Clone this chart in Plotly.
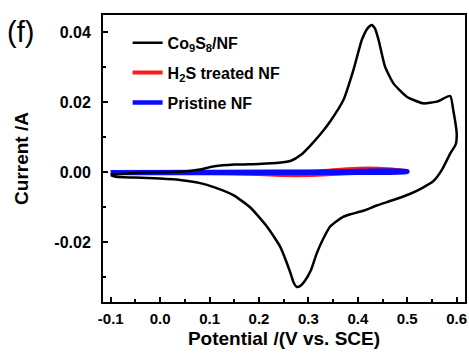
import plotly.graph_objects as go

# Co9S8/NF cyclic voltammogram (closed loop)
co_x = [-0.100, -0.050, 0.000, 0.050, 0.080, 0.110, 0.150, 0.200, 0.240, 0.265, 0.285, 0.303,
        0.325, 0.344, 0.371, 0.391, 0.408, 0.420, 0.428, 0.435, 0.442, 0.455, 0.472, 0.499,
        0.532, 0.560, 0.587, 0.593, 0.600, 0.598, 0.587, 0.570, 0.553, 0.530, 0.505, 0.470,
        0.438, 0.411, 0.385, 0.371, 0.357, 0.344, 0.330, 0.317, 0.305, 0.293, 0.283, 0.276,
        0.270, 0.263, 0.243, 0.216, 0.182, 0.148, 0.110, 0.081, 0.040, 0.000, -0.050, -0.090, -0.100]
co_y = [-0.0006, -0.0002, 0.0000, 0.0002, 0.0008, 0.0017, 0.0022, 0.0024, 0.0027, 0.0033, 0.0050, 0.0075,
        0.0110, 0.0145, 0.0207, 0.0292, 0.0378, 0.0412, 0.0421, 0.0410, 0.0378, 0.0302, 0.0254, 0.0216,
        0.0197, 0.0202, 0.0218, 0.0178, 0.0111, 0.0080, 0.0054, 0.0007, -0.0025, -0.0045, -0.0062, -0.0080,
        -0.0095, -0.0110, -0.0120, -0.0127, -0.0140, -0.0155, -0.0190, -0.0231, -0.0280, -0.0310, -0.0325, -0.0327,
        -0.0315, -0.0285, -0.0213, -0.0155, -0.0100, -0.0065, -0.0043, -0.0031, -0.0022, -0.0018, -0.0015, -0.0013, -0.0008]

# H2S treated NF
h2s_x = [-0.10, 0.10, 0.25, 0.33, 0.38, 0.42, 0.46, 0.50, 0.50, 0.45, 0.38, 0.30, 0.25, 0.20, 0.10, -0.10]
h2s_y = [0.0000, 0.0001, 0.0002, 0.0004, 0.0009, 0.0011, 0.0009, 0.0003, 0.0002, 0.0000, -0.0003, -0.0008,
         -0.0008, -0.0005, -0.0002, -0.0001]

# Pristine NF
pr_x = [-0.10, 0.10, 0.30, 0.40, 0.50, 0.50, 0.40, 0.20, -0.10]
pr_y = [0.0000, 0.0001, 0.0001, 0.0004, 0.0003, 0.0001, -0.0001, -0.0002, -0.0002]

x_ticks = [-0.1, 0.0, 0.1, 0.2, 0.3, 0.4, 0.5, 0.6]
x_tick_labels = ["-0.1", "0.0", "0.1", "0.2", "0.3", "0.4", "0.5", "0.6"]
y_ticks = [-0.02, 0.00, 0.02, 0.04]
y_tick_labels = ["-0.02", "0.00", "0.02", "0.04"]

FONT = "Arial, Liberation Sans, sans-serif"

fig = go.Figure()
fig.add_trace(go.Scatter(x=h2s_x, y=h2s_y, mode="lines", name="<b>H<sub>2</sub>S treated NF</b>",
                         line=dict(color="#ff1a1a", width=4, shape="spline", smoothing=0.8),
                         legendgroup="b", legendrank=2))
fig.add_trace(go.Scatter(x=pr_x, y=pr_y, mode="lines", name="<b>Pristine NF</b>",
                         line=dict(color="#0a0aff", width=4.5, shape="spline", smoothing=0.8),
                         legendgroup="c", legendrank=3))
fig.add_trace(go.Scatter(x=co_x, y=co_y, mode="lines", name="<b>Co<sub>9</sub>S<sub>8</sub>/NF</b>",
                         line=dict(color="black", width=2.5, shape="spline", smoothing=0.5),
                         legendgroup="a", legendrank=1))

axis_common = dict(showline=True, linecolor="black", linewidth=2, mirror=True,
                   ticks="inside", ticklen=5, tickwidth=2, tickcolor="black",
                   showgrid=False, zeroline=False, automargin=False,
                   ticklabeloverflow="allow")

fig.update_xaxes(range=[-0.1156, 0.6168], tickvals=x_ticks, ticktext=x_tick_labels,
                 ticklabelstandoff=2,
                 tickfont=dict(family=FONT, size=15, color="black", weight="bold"),
                 minor=dict(ticks="inside", ticklen=3, tickwidth=2, tickcolor="black", dtick=0.05,
                            tick0=-0.1, showgrid=False),
                 title=dict(text="<b>Potential /(V vs. SCE)</b>", font=dict(family=FONT, size=19, color="black"),
                            standoff=6),
                 **axis_common)
fig.update_yaxes(range=[-0.03706, 0.04494], tickvals=y_ticks, ticktext=y_tick_labels,
                 ticklabelstandoff=7,
                 tickfont=dict(family=FONT, size=16, color="black", weight="bold"),
                 minor=dict(ticks="inside", ticklen=3, tickwidth=2, tickcolor="black", dtick=0.01,
                            tick0=0, showgrid=False),
                 title=dict(text="<b>Current /A</b>", font=dict(family=FONT, size=19, color="black"),
                            standoff=21),
                 **axis_common)

fig.add_annotation(text="(f)", xref="paper", yref="paper", x=-0.272, y=1.005, xanchor="left", yanchor="top",
                   showarrow=False, font=dict(family=FONT, size=29, color="black"))

fig.update_layout(
    width=469, height=359,
    margin=dict(l=103, r=4, t=15, b=57),
    plot_bgcolor="white", paper_bgcolor="white",
    showlegend=True,
    legend=dict(x=0.068, y=0.962, xanchor="left", yanchor="top", bgcolor="rgba(0,0,0,0)",
                font=dict(family=FONT, size=16, color="black"), tracegroupgap=6,
                traceorder="grouped"),
)

fig.write_html("out.html", config={"displayModeBar": False},
               post_script="document.body.style.margin='0';document.body.style.overflow='hidden';")
